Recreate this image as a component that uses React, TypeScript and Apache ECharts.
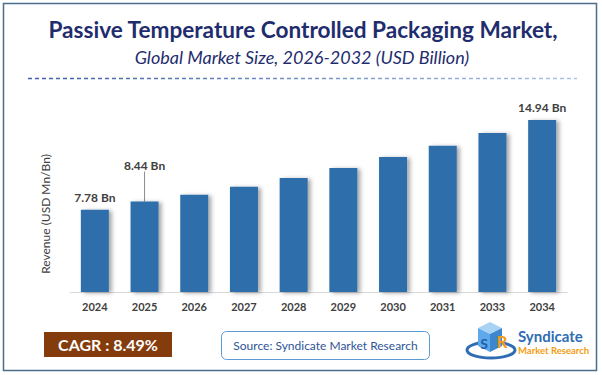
import React, { useEffect, useRef } from "react";
import * as echarts from "echarts";

const years = ["2024", "2025", "2026", "2027", "2028", "2029", "2030", "2031", "2033", "2034"];
const values = [7.78, 8.44, 8.97, 9.61, 10.32, 11.12, 11.99, 12.89, 13.9, 14.94];
const labeledIndices = [0, 1, 9];
const calloutIndex = 1;
const titleText = "Passive Temperature Controlled Packaging Market,";
const subtitleText = "Global Market Size, 2026-2032 (USD Billion)";
const yAxisName = "Revenue (USD Mn/Bn)";
const cagrText = "CAGR : 8.49%";
const sourceText = "Source: Syndicate Market Research";
const logoTitle = "Syndicate";
const logoSub = "Market Research";

const FONT = "Lato, 'Open Sans', sans-serif";

export default function App() {
  const ref = useRef<HTMLDivElement>(null);
  useEffect(() => {
    if (!ref.current) return;
    const chart = echarts.init(ref.current, null, { renderer: "svg" });
    const data = values.map((v, i) => ({
      value: v,
      label: { show: labeledIndices.includes(i) },
      labelLine: { show: i === calloutIndex, lineStyle: { color: "#8C8C8C", width: 1 } },
    }));
    chart.setOption({
      animation: false,
      backgroundColor: "#ffffff",
      grid: { left: 70, right: 35, top: 100, bottom: 83 },
      xAxis: {
        type: "category",
        data: years,
        axisLine: { lineStyle: { color: "#D9D9D9", width: 1 } },
        axisTick: { show: false },
        axisLabel: { color: "#404040", fontWeight: "bold", fontSize: 11, fontFamily: FONT, margin: 9 },
      },
      yAxis: {
        type: "value",
        min: 1.23,
        max: 16.53,
        axisLabel: { show: false },
        axisLine: { show: false },
        axisTick: { show: false },
        splitLine: { show: false },
        name: yAxisName,
        nameLocation: "middle",
        nameRotate: 90,
        nameGap: 19,
        nameTextStyle: { color: "#404040", fontSize: 12, fontFamily: FONT, padding: [0, 36, 0, 0] },
      },
      series: [
        {
          type: "bar",
          data,
          barWidth: 28,
          itemStyle: {
            color: "#2E6EAB",
            shadowColor: "rgba(0,0,0,0.35)",
            shadowBlur: 4,
            shadowOffsetX: 3,
            shadowOffsetY: 1,
          },
          label: {
            show: false,
            position: "top",
            distance: 6,
            formatter: "{c} Bn",
            color: "#404040",
            fontWeight: "bold",
            fontSize: 12,
            fontFamily: FONT,
          },
          labelLayout: (p: any) => (p.dataIndex === calloutIndex ? { dy: -24 } : {}),
        },
      ],
      graphic: [
        {
          type: "rect",
          shape: { x: 3.5, y: 3.5, width: 593, height: 367 },
          style: { fill: "none", stroke: "#4A6D8C", lineWidth: 1.5 },
          silent: true,
        },
        {
          type: "text",
          x: 303,
          y: 29,
          style: {
            text: titleText,
            fill: "#1F2D6E",
            font: `bold 22.6px ${FONT}`,
            textAlign: "center",
            textVerticalAlign: "middle",
          },
        },
        {
          type: "text",
          x: 302,
          y: 57,
          style: {
            text: subtitleText,
            fill: "#1F2D6E",
            font: `italic 18px ${FONT}`,
            textAlign: "center",
            textVerticalAlign: "middle",
          },
        },
        {
          type: "line",
          shape: { x1: 28, y1: 78.5, x2: 577, y2: 78.5 },
          style: {
            stroke: {
              type: "linear",
              x: 28,
              y: 0,
              x2: 577,
              y2: 0,
              global: true,
              colorStops: [
                { offset: 0, color: "#3B5EA6" },
                { offset: 1, color: "#A9C4EA" },
              ],
            },
            lineWidth: 1.5,
            lineDash: [4, 3],
          },
        },
        {
          type: "rect",
          shape: { x: 44, y: 332, width: 128, height: 25 },
          style: { fill: "#843C0C" },
        },
        {
          type: "text",
          x: 108,
          y: 344.5,
          style: {
            text: cagrText,
            fill: "#ffffff",
            font: `bold 16px ${FONT}`,
            textAlign: "center",
            textVerticalAlign: "middle",
          },
        },
        {
          type: "rect",
          shape: { x: 221.5, y: 331.5, width: 208, height: 28, r: 5 },
          style: { fill: "#ffffff", stroke: "#5B9BD5", lineWidth: 1 },
        },
        {
          type: "text",
          x: 325.5,
          y: 345.5,
          style: {
            text: sourceText,
            fill: "#2F5597",
            font: `12px ${FONT}`,
            textAlign: "center",
            textVerticalAlign: "middle",
          },
        },
        // logo
        {
          type: "ellipse",
          shape: { cx: 491, cy: 350, rx: 24, ry: 8 },
          style: { fill: "none", stroke: "#2E6DB4", lineWidth: 3 },
        },
        {
          type: "polygon",
          shape: { points: [[478, 328], [490, 322], [502, 328], [490, 334]] },
          style: { fill: "#A9D3F5" },
        },
        {
          type: "polygon",
          shape: { points: [[478, 328], [490, 334], [490, 352], [478, 346]] },
          style: { fill: "#5DA9E9" },
        },
        {
          type: "polygon",
          shape: { points: [[490, 334], [502, 328], [502, 346], [490, 352]] },
          style: { fill: "#3F86D0" },
        },
        {
          type: "text",
          x: 484,
          y: 343,
          style: { text: "S", fill: "#1F5FAF", font: `bold 14px ${FONT}`, textAlign: "center", textVerticalAlign: "middle" },
        },
        {
          type: "text",
          x: 502,
          y: 341,
          style: { text: "R", fill: "#F39C12", font: `bold 17px ${FONT}`, textAlign: "center", textVerticalAlign: "middle" },
        },
        {
          type: "text",
          x: 518,
          y: 336,
          style: { text: logoTitle, fill: "#2E6DB4", font: `bold 15px ${FONT}`, textAlign: "left", textVerticalAlign: "middle" },
        },
        {
          type: "text",
          x: 518,
          y: 350,
          style: { text: logoSub, fill: "#F39C12", font: `bold 9.5px ${FONT}`, textAlign: "left", textVerticalAlign: "middle" },
        },
      ],
    });
    return () => chart.dispose();
  }, []);
  return (
    <div
      ref={ref}
      style={{ position: "fixed", left: 0, top: 0, width: 602, height: 375 }}
    />
  );
}
